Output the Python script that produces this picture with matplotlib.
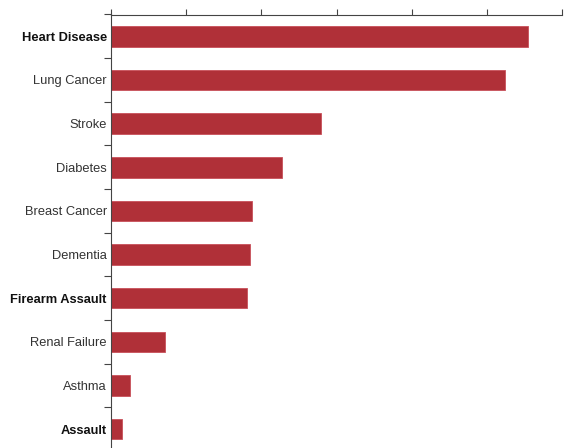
import matplotlib.pyplot as plt
import numpy as np

plt.rcParams["font.family"] = ["Liberation Sans", "DejaVu Sans"]

causes = ["Heart Disease", "Lung Cancer", "Stroke", "Diabetes", "Breast Cancer",
          "Dementia", "Firearm Assault", "Renal Failure", "Asthma", "Assault"]
values = [5.55, 5.24, 2.80, 2.28, 1.88, 1.85, 1.81, 0.72, 0.25, 0.15]
bold_labels = ["Heart Disease", "Firearm Assault", "Assault"]
x_ticks = [0, 1, 2, 3, 4, 5, 6]

fig = plt.figure(figsize=(5.67, 4.48), dpi=100)
ax = fig.add_axes([111 / 567, -3 / 448, 451 / 567, 436.5 / 448])

y = np.arange(len(causes))
ax.barh(y, values, height=0.47, color="#b03038", edgecolor="#c8505a", linewidth=0.6)
ax.set_ylim(len(causes) - 0.5, -0.5)
ax.set_xlim(0, 6)

ax.set_yticks(y)
ax.set_yticklabels(causes, fontsize=9.3, color="#333333")
for lbl in ax.get_yticklabels():
    if lbl.get_text() in bold_labels:
        lbl.set_fontweight("bold")
        lbl.set_color("#111111")
ax.tick_params(axis="y", which="major", length=0, pad=3)
ax.set_yticks(np.arange(len(causes)) - 0.5, minor=True)
ax.tick_params(axis="y", which="minor", length=5, width=0.8, color="#444444", direction="out")

ax.xaxis.tick_top()
ax.set_xticks(x_ticks)
ax.set_xticklabels([])
ax.tick_params(axis="x", length=4, width=0.8, color="#444444", direction="out")

for side in ["right", "bottom"]:
    ax.spines[side].set_visible(False)
for side in ["top", "left"]:
    ax.spines[side].set_color("#444444")
    ax.spines[side].set_linewidth(0.8)

fig.savefig("out.png", dpi=100)
